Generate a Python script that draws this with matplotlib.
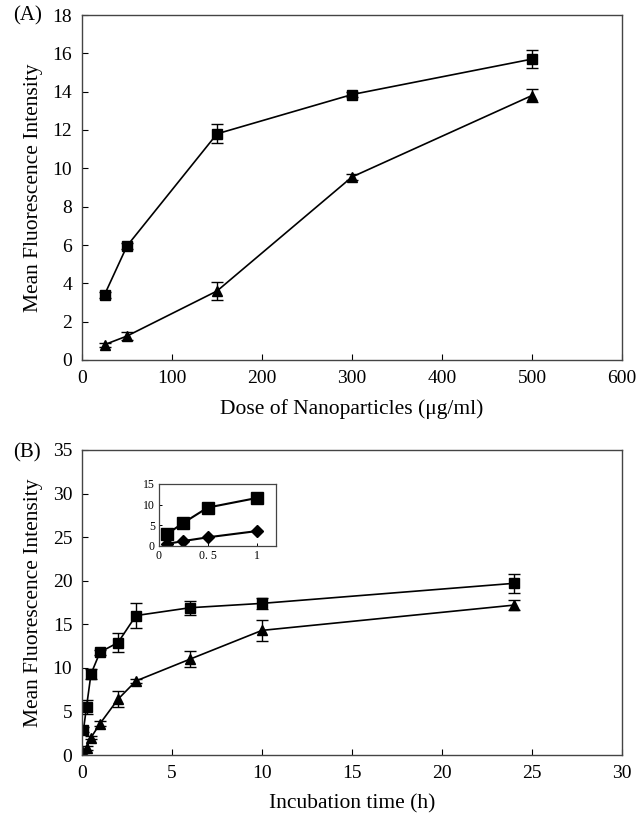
import numpy as np
import matplotlib
matplotlib.use("Agg")
import matplotlib.pyplot as plt

plt.rcParams['font.family'] = ['Liberation Serif', 'DejaVu Serif']
plt.rcParams['mathtext.fontset'] = 'stix'

# (A) dose dependence
dose = [25, 50, 150, 300, 500]
dose_sq = [3.4, 5.95, 11.8, 13.85, 15.7]
dose_sq_err = [0.15, 0.15, 0.5, 0.15, 0.45]
dose_tri = [0.8, 1.25, 3.6, 9.55, 13.8]
dose_tri_err = [0.1, 0.2, 0.45, 0.15, 0.35]

# (B) time dependence
time_h = [0.083, 0.25, 0.5, 1, 2, 3, 6, 10, 24]
time_sq = [2.9, 5.5, 9.3, 11.8, 12.9, 16.0, 16.9, 17.4, 19.7]
time_sq_err = [0.3, 0.8, 0.6, 0.3, 1.1, 1.4, 0.8, 0.6, 1.1]
time_tri = [0.3, 0.8, 2.0, 3.6, 6.4, 8.5, 11.0, 14.3, 17.2]
time_tri_err = [0.1, 0.2, 0.2, 0.3, 0.9, 0.2, 0.9, 1.2, 0.6]

# inset: first hour
inset_t = [0.083, 0.25, 0.5, 1]
inset_sq = [2.9, 5.6, 9.3, 11.6]
inset_dia = [0.5, 1.2, 2.1, 3.6]

W, H = 637, 814
fig = plt.figure(figsize=(W / 100, H / 100), dpi=100)


def box(l, t, r, b):
    return [l / W, 1 - b / H, (r - l) / W, (b - t) / H]


def style(ax, size=14):
    ax.tick_params(direction='in', length=4, width=0.8, labelsize=size,
                   top=False, right=False, pad=7)
    for s in ax.spines.values():
        s.set_linewidth(1.0)
        s.set_color('#444444')


eb = dict(color='black', lw=1.2, capsize=4.5, elinewidth=1.0, capthick=1.0,
          markersize=7.5)

ax1 = fig.add_axes(box(82, 15, 622, 360))
ax1.errorbar(dose, dose_sq, yerr=dose_sq_err, marker='s', **eb)
ax1.errorbar(dose, dose_tri, yerr=dose_tri_err, marker='^', **eb)
ax1.set_xlim(0, 600)
ax1.set_ylim(0, 18)
ax1.set_xticks(range(0, 601, 100))
ax1.set_yticks(range(0, 19, 2))
ax1.set_xlabel('Dose of Nanoparticles (μg/ml)', fontsize=15.5, labelpad=9)
ax1.set_ylabel('Mean Fluorescence Intensity', fontsize=15.5, labelpad=7)
style(ax1)
fig.text(13 / W, 1 - 16 / H, '(A)', fontsize=15, va='center', ha='left')

ax2 = fig.add_axes(box(82, 450, 622, 755))
ax2.errorbar(time_h, time_sq, yerr=time_sq_err, marker='s', **eb)
ax2.errorbar(time_h, time_tri, yerr=time_tri_err, marker='^', **eb)
ax2.set_xlim(0, 30)
ax2.set_ylim(0, 35)
ax2.set_xticks(range(0, 31, 5))
ax2.set_yticks(range(0, 36, 5))
ax2.set_xlabel('Incubation time (h)', fontsize=15.5, labelpad=9)
ax2.set_ylabel('Mean Fluorescence Intensity', fontsize=15.5, labelpad=7)
style(ax2)
fig.text(13 / W, 1 - 453 / H, '(B)', fontsize=15, va='center', ha='left')

ins = fig.add_axes(box(159, 484, 276, 546))
ins.plot(inset_t, inset_sq, color='black', lw=1.5, marker='s', markersize=8)
ins.plot(inset_t, inset_dia, color='black', lw=1.5, marker='D', markersize=6.5)
ins.set_xlim(0, 1.2)
ins.set_ylim(0, 15)
ins.set_xticks([0, 0.5, 1])
ins.set_xticklabels(['0', '0. 5', '1'])
ins.set_yticks([0, 5, 10, 15])
ins.tick_params(direction='in', length=2.5, width=0.7, labelsize=8.5, pad=3)
for s in ins.spines.values():
    s.set_linewidth(0.9)
    s.set_color('#444444')

fig.savefig('out.png', dpi=100)
